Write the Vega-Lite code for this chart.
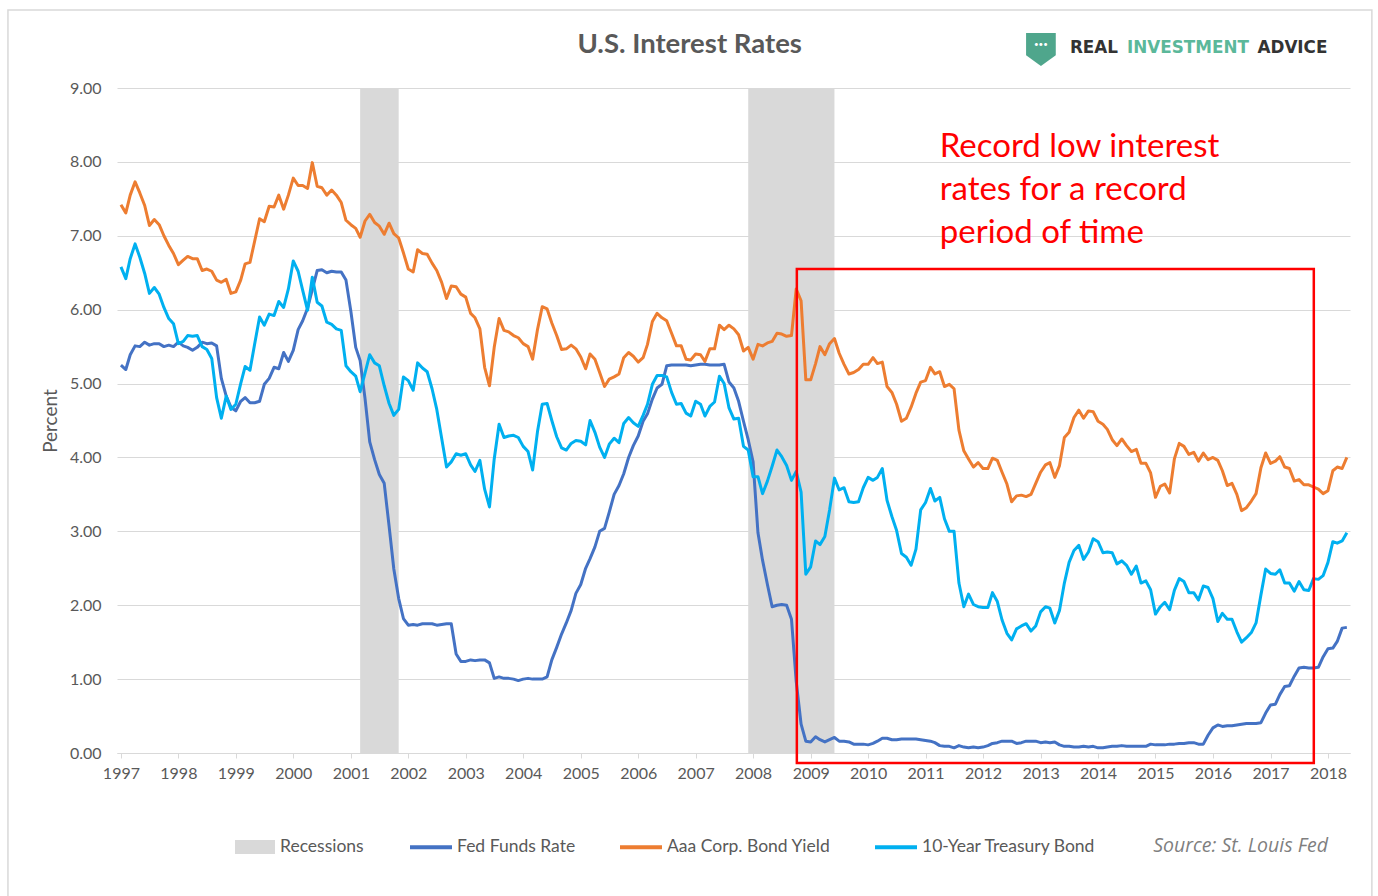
{
"$schema": "https://vega.github.io/schema/vega-lite/v6.json",
"autosize": {"type": "none"},
"width": 1233,
"height": 665,
"padding": {"left": 117, "top": 88, "right": 28, "bottom": 143},
"background": "white",
"datasets": {
"rates": [
{"d":"1997-01-01","fed":5.25,"aaa":7.42,"t10":6.58},{"d":"1997-02-01","fed":5.19,"aaa":7.31,"t10":6.42},{"d":"1997-03-01","fed":5.39,"aaa":7.55,"t10":6.69},{"d":"1997-04-01","fed":5.51,"aaa":7.73,"t10":6.89},{"d":"1997-05-01","fed":5.50,"aaa":7.58,"t10":6.71},{"d":"1997-06-01","fed":5.56,"aaa":7.41,"t10":6.49},{"d":"1997-07-01","fed":5.52,"aaa":7.14,"t10":6.22},{"d":"1997-08-01","fed":5.54,"aaa":7.22,"t10":6.30},{"d":"1997-09-01","fed":5.54,"aaa":7.15,"t10":6.21},{"d":"1997-10-01","fed":5.50,"aaa":7.00,"t10":6.03},{"d":"1997-11-01","fed":5.52,"aaa":6.87,"t10":5.88},{"d":"1997-12-01","fed":5.50,"aaa":6.76,"t10":5.81},
{"d":"1998-01-01","fed":5.56,"aaa":6.61,"t10":5.54},{"d":"1998-02-01","fed":5.51,"aaa":6.67,"t10":5.57},{"d":"1998-03-01","fed":5.49,"aaa":6.72,"t10":5.65},{"d":"1998-04-01","fed":5.45,"aaa":6.69,"t10":5.64},{"d":"1998-05-01","fed":5.49,"aaa":6.69,"t10":5.65},{"d":"1998-06-01","fed":5.56,"aaa":6.53,"t10":5.50},{"d":"1998-07-01","fed":5.54,"aaa":6.55,"t10":5.46},{"d":"1998-08-01","fed":5.55,"aaa":6.52,"t10":5.34},{"d":"1998-09-01","fed":5.51,"aaa":6.40,"t10":4.81},{"d":"1998-10-01","fed":5.07,"aaa":6.37,"t10":4.53},{"d":"1998-11-01","fed":4.83,"aaa":6.41,"t10":4.83},{"d":"1998-12-01","fed":4.68,"aaa":6.22,"t10":4.65},
{"d":"1999-01-01","fed":4.63,"aaa":6.24,"t10":4.72},{"d":"1999-02-01","fed":4.76,"aaa":6.40,"t10":5.00},{"d":"1999-03-01","fed":4.81,"aaa":6.62,"t10":5.23},{"d":"1999-04-01","fed":4.74,"aaa":6.64,"t10":5.18},{"d":"1999-05-01","fed":4.74,"aaa":6.93,"t10":5.54},{"d":"1999-06-01","fed":4.76,"aaa":7.23,"t10":5.90},{"d":"1999-07-01","fed":4.99,"aaa":7.19,"t10":5.79},{"d":"1999-08-01","fed":5.07,"aaa":7.40,"t10":5.94},{"d":"1999-09-01","fed":5.22,"aaa":7.39,"t10":5.92},{"d":"1999-10-01","fed":5.20,"aaa":7.55,"t10":6.11},{"d":"1999-11-01","fed":5.42,"aaa":7.36,"t10":6.03},{"d":"1999-12-01","fed":5.30,"aaa":7.55,"t10":6.28},
{"d":"2000-01-01","fed":5.45,"aaa":7.78,"t10":6.66},{"d":"2000-02-01","fed":5.73,"aaa":7.68,"t10":6.52},{"d":"2000-03-01","fed":5.85,"aaa":7.68,"t10":6.26},{"d":"2000-04-01","fed":6.02,"aaa":7.64,"t10":5.99},{"d":"2000-05-01","fed":6.27,"aaa":7.99,"t10":6.44},{"d":"2000-06-01","fed":6.53,"aaa":7.67,"t10":6.10},{"d":"2000-07-01","fed":6.54,"aaa":7.65,"t10":6.05},{"d":"2000-08-01","fed":6.50,"aaa":7.55,"t10":5.83},{"d":"2000-09-01","fed":6.52,"aaa":7.62,"t10":5.80},{"d":"2000-10-01","fed":6.51,"aaa":7.55,"t10":5.74},{"d":"2000-11-01","fed":6.51,"aaa":7.45,"t10":5.72},{"d":"2000-12-01","fed":6.40,"aaa":7.21,"t10":5.24},
{"d":"2001-01-01","fed":5.98,"aaa":7.15,"t10":5.16},{"d":"2001-02-01","fed":5.49,"aaa":7.10,"t10":5.10},{"d":"2001-03-01","fed":5.31,"aaa":6.98,"t10":4.89},{"d":"2001-04-01","fed":4.80,"aaa":7.20,"t10":5.14},{"d":"2001-05-01","fed":4.21,"aaa":7.29,"t10":5.39},{"d":"2001-06-01","fed":3.97,"aaa":7.18,"t10":5.28},{"d":"2001-07-01","fed":3.77,"aaa":7.13,"t10":5.24},{"d":"2001-08-01","fed":3.65,"aaa":7.02,"t10":4.97},{"d":"2001-09-01","fed":3.07,"aaa":7.17,"t10":4.73},{"d":"2001-10-01","fed":2.49,"aaa":7.03,"t10":4.57},{"d":"2001-11-01","fed":2.09,"aaa":6.97,"t10":4.65},{"d":"2001-12-01","fed":1.82,"aaa":6.77,"t10":5.09},
{"d":"2002-01-01","fed":1.73,"aaa":6.55,"t10":5.04},{"d":"2002-02-01","fed":1.74,"aaa":6.51,"t10":4.91},{"d":"2002-03-01","fed":1.73,"aaa":6.81,"t10":5.28},{"d":"2002-04-01","fed":1.75,"aaa":6.76,"t10":5.21},{"d":"2002-05-01","fed":1.75,"aaa":6.75,"t10":5.16},{"d":"2002-06-01","fed":1.75,"aaa":6.63,"t10":4.93},{"d":"2002-07-01","fed":1.73,"aaa":6.53,"t10":4.65},{"d":"2002-08-01","fed":1.74,"aaa":6.37,"t10":4.26},{"d":"2002-09-01","fed":1.75,"aaa":6.15,"t10":3.87},{"d":"2002-10-01","fed":1.75,"aaa":6.32,"t10":3.94},{"d":"2002-11-01","fed":1.34,"aaa":6.31,"t10":4.05},{"d":"2002-12-01","fed":1.24,"aaa":6.21,"t10":4.03},
{"d":"2003-01-01","fed":1.24,"aaa":6.17,"t10":4.05},{"d":"2003-02-01","fed":1.26,"aaa":5.95,"t10":3.90},{"d":"2003-03-01","fed":1.25,"aaa":5.89,"t10":3.81},{"d":"2003-04-01","fed":1.26,"aaa":5.74,"t10":3.96},{"d":"2003-05-01","fed":1.26,"aaa":5.22,"t10":3.57},{"d":"2003-06-01","fed":1.22,"aaa":4.97,"t10":3.33},{"d":"2003-07-01","fed":1.01,"aaa":5.49,"t10":3.98},{"d":"2003-08-01","fed":1.03,"aaa":5.88,"t10":4.45},{"d":"2003-09-01","fed":1.01,"aaa":5.72,"t10":4.27},{"d":"2003-10-01","fed":1.01,"aaa":5.70,"t10":4.29},{"d":"2003-11-01","fed":1.00,"aaa":5.65,"t10":4.30},{"d":"2003-12-01","fed":0.98,"aaa":5.62,"t10":4.27},
{"d":"2004-01-01","fed":1.00,"aaa":5.54,"t10":4.15},{"d":"2004-02-01","fed":1.01,"aaa":5.50,"t10":4.08},{"d":"2004-03-01","fed":1.00,"aaa":5.33,"t10":3.83},{"d":"2004-04-01","fed":1.00,"aaa":5.73,"t10":4.35},{"d":"2004-05-01","fed":1.00,"aaa":6.04,"t10":4.72},{"d":"2004-06-01","fed":1.03,"aaa":6.01,"t10":4.73},{"d":"2004-07-01","fed":1.26,"aaa":5.82,"t10":4.50},{"d":"2004-08-01","fed":1.43,"aaa":5.65,"t10":4.28},{"d":"2004-09-01","fed":1.61,"aaa":5.46,"t10":4.13},{"d":"2004-10-01","fed":1.76,"aaa":5.47,"t10":4.10},{"d":"2004-11-01","fed":1.93,"aaa":5.52,"t10":4.19},{"d":"2004-12-01","fed":2.16,"aaa":5.47,"t10":4.23},
{"d":"2005-01-01","fed":2.28,"aaa":5.36,"t10":4.22},{"d":"2005-02-01","fed":2.50,"aaa":5.20,"t10":4.17},{"d":"2005-03-01","fed":2.63,"aaa":5.40,"t10":4.50},{"d":"2005-04-01","fed":2.79,"aaa":5.33,"t10":4.34},{"d":"2005-05-01","fed":3.00,"aaa":5.15,"t10":4.14},{"d":"2005-06-01","fed":3.04,"aaa":4.96,"t10":4.00},{"d":"2005-07-01","fed":3.26,"aaa":5.06,"t10":4.18},{"d":"2005-08-01","fed":3.50,"aaa":5.09,"t10":4.26},{"d":"2005-09-01","fed":3.62,"aaa":5.13,"t10":4.20},{"d":"2005-10-01","fed":3.78,"aaa":5.35,"t10":4.46},{"d":"2005-11-01","fed":4.00,"aaa":5.42,"t10":4.54},{"d":"2005-12-01","fed":4.16,"aaa":5.37,"t10":4.47},
{"d":"2006-01-01","fed":4.29,"aaa":5.29,"t10":4.42},{"d":"2006-02-01","fed":4.49,"aaa":5.35,"t10":4.57},{"d":"2006-03-01","fed":4.59,"aaa":5.53,"t10":4.72},{"d":"2006-04-01","fed":4.79,"aaa":5.84,"t10":4.99},{"d":"2006-05-01","fed":4.94,"aaa":5.95,"t10":5.11},{"d":"2006-06-01","fed":4.99,"aaa":5.89,"t10":5.11},{"d":"2006-07-01","fed":5.24,"aaa":5.85,"t10":5.09},{"d":"2006-08-01","fed":5.25,"aaa":5.68,"t10":4.88},{"d":"2006-09-01","fed":5.25,"aaa":5.51,"t10":4.72},{"d":"2006-10-01","fed":5.25,"aaa":5.51,"t10":4.73},{"d":"2006-11-01","fed":5.25,"aaa":5.33,"t10":4.60},{"d":"2006-12-01","fed":5.24,"aaa":5.32,"t10":4.56},
{"d":"2007-01-01","fed":5.25,"aaa":5.40,"t10":4.76},{"d":"2007-02-01","fed":5.26,"aaa":5.39,"t10":4.72},{"d":"2007-03-01","fed":5.26,"aaa":5.30,"t10":4.56},{"d":"2007-04-01","fed":5.25,"aaa":5.47,"t10":4.69},{"d":"2007-05-01","fed":5.25,"aaa":5.47,"t10":4.75},{"d":"2007-06-01","fed":5.25,"aaa":5.79,"t10":5.10},{"d":"2007-07-01","fed":5.26,"aaa":5.73,"t10":5.00},{"d":"2007-08-01","fed":5.02,"aaa":5.79,"t10":4.67},{"d":"2007-09-01","fed":4.94,"aaa":5.74,"t10":4.52},{"d":"2007-10-01","fed":4.76,"aaa":5.66,"t10":4.53},{"d":"2007-11-01","fed":4.49,"aaa":5.44,"t10":4.15},{"d":"2007-12-01","fed":4.24,"aaa":5.49,"t10":4.10},
{"d":"2008-01-01","fed":3.94,"aaa":5.33,"t10":3.74},{"d":"2008-02-01","fed":2.98,"aaa":5.53,"t10":3.74},{"d":"2008-03-01","fed":2.61,"aaa":5.51,"t10":3.51},{"d":"2008-04-01","fed":2.28,"aaa":5.55,"t10":3.68},{"d":"2008-05-01","fed":1.98,"aaa":5.57,"t10":3.88},{"d":"2008-06-01","fed":2.00,"aaa":5.68,"t10":4.10},{"d":"2008-07-01","fed":2.01,"aaa":5.67,"t10":4.01},{"d":"2008-08-01","fed":2.00,"aaa":5.64,"t10":3.89},{"d":"2008-09-01","fed":1.81,"aaa":5.65,"t10":3.69},{"d":"2008-10-01","fed":0.97,"aaa":6.28,"t10":3.81},{"d":"2008-11-01","fed":0.39,"aaa":6.12,"t10":3.53},{"d":"2008-12-01","fed":0.16,"aaa":5.05,"t10":2.42},
{"d":"2009-01-01","fed":0.15,"aaa":5.05,"t10":2.52},{"d":"2009-02-01","fed":0.22,"aaa":5.27,"t10":2.87},{"d":"2009-03-01","fed":0.18,"aaa":5.50,"t10":2.82},{"d":"2009-04-01","fed":0.15,"aaa":5.39,"t10":2.93},{"d":"2009-05-01","fed":0.18,"aaa":5.54,"t10":3.29},{"d":"2009-06-01","fed":0.21,"aaa":5.61,"t10":3.72},{"d":"2009-07-01","fed":0.16,"aaa":5.41,"t10":3.56},{"d":"2009-08-01","fed":0.16,"aaa":5.26,"t10":3.59},{"d":"2009-09-01","fed":0.15,"aaa":5.13,"t10":3.40},{"d":"2009-10-01","fed":0.12,"aaa":5.15,"t10":3.39},{"d":"2009-11-01","fed":0.12,"aaa":5.19,"t10":3.40},{"d":"2009-12-01","fed":0.12,"aaa":5.26,"t10":3.59},
{"d":"2010-01-01","fed":0.11,"aaa":5.26,"t10":3.73},{"d":"2010-02-01","fed":0.13,"aaa":5.35,"t10":3.69},{"d":"2010-03-01","fed":0.16,"aaa":5.27,"t10":3.73},{"d":"2010-04-01","fed":0.20,"aaa":5.29,"t10":3.85},{"d":"2010-05-01","fed":0.20,"aaa":4.96,"t10":3.42},{"d":"2010-06-01","fed":0.18,"aaa":4.88,"t10":3.20},{"d":"2010-07-01","fed":0.18,"aaa":4.72,"t10":3.01},{"d":"2010-08-01","fed":0.19,"aaa":4.49,"t10":2.70},{"d":"2010-09-01","fed":0.19,"aaa":4.53,"t10":2.65},{"d":"2010-10-01","fed":0.19,"aaa":4.68,"t10":2.54},{"d":"2010-11-01","fed":0.19,"aaa":4.87,"t10":2.76},{"d":"2010-12-01","fed":0.18,"aaa":5.02,"t10":3.29},
{"d":"2011-01-01","fed":0.17,"aaa":5.04,"t10":3.39},{"d":"2011-02-01","fed":0.16,"aaa":5.22,"t10":3.58},{"d":"2011-03-01","fed":0.14,"aaa":5.13,"t10":3.41},{"d":"2011-04-01","fed":0.10,"aaa":5.16,"t10":3.46},{"d":"2011-05-01","fed":0.09,"aaa":4.96,"t10":3.17},{"d":"2011-06-01","fed":0.09,"aaa":4.99,"t10":3.00},{"d":"2011-07-01","fed":0.07,"aaa":4.93,"t10":3.00},{"d":"2011-08-01","fed":0.10,"aaa":4.37,"t10":2.30},{"d":"2011-09-01","fed":0.08,"aaa":4.09,"t10":1.98},{"d":"2011-10-01","fed":0.07,"aaa":3.98,"t10":2.15},{"d":"2011-11-01","fed":0.08,"aaa":3.87,"t10":2.01},{"d":"2011-12-01","fed":0.07,"aaa":3.93,"t10":1.98},
{"d":"2012-01-01","fed":0.08,"aaa":3.85,"t10":1.97},{"d":"2012-02-01","fed":0.10,"aaa":3.85,"t10":1.97},{"d":"2012-03-01","fed":0.13,"aaa":3.99,"t10":2.17},{"d":"2012-04-01","fed":0.14,"aaa":3.96,"t10":2.05},{"d":"2012-05-01","fed":0.16,"aaa":3.80,"t10":1.80},{"d":"2012-06-01","fed":0.16,"aaa":3.64,"t10":1.62},{"d":"2012-07-01","fed":0.16,"aaa":3.40,"t10":1.53},{"d":"2012-08-01","fed":0.13,"aaa":3.48,"t10":1.68},{"d":"2012-09-01","fed":0.14,"aaa":3.49,"t10":1.72},{"d":"2012-10-01","fed":0.16,"aaa":3.47,"t10":1.75},{"d":"2012-11-01","fed":0.16,"aaa":3.50,"t10":1.65},{"d":"2012-12-01","fed":0.16,"aaa":3.65,"t10":1.72},
{"d":"2013-01-01","fed":0.14,"aaa":3.80,"t10":1.91},{"d":"2013-02-01","fed":0.15,"aaa":3.90,"t10":1.98},{"d":"2013-03-01","fed":0.14,"aaa":3.93,"t10":1.96},{"d":"2013-04-01","fed":0.15,"aaa":3.73,"t10":1.76},{"d":"2013-05-01","fed":0.11,"aaa":3.89,"t10":1.93},{"d":"2013-06-01","fed":0.09,"aaa":4.27,"t10":2.30},{"d":"2013-07-01","fed":0.09,"aaa":4.34,"t10":2.58},{"d":"2013-08-01","fed":0.08,"aaa":4.54,"t10":2.74},{"d":"2013-09-01","fed":0.08,"aaa":4.64,"t10":2.81},{"d":"2013-10-01","fed":0.09,"aaa":4.53,"t10":2.62},{"d":"2013-11-01","fed":0.08,"aaa":4.63,"t10":2.72},{"d":"2013-12-01","fed":0.09,"aaa":4.62,"t10":2.90},
{"d":"2014-01-01","fed":0.07,"aaa":4.49,"t10":2.86},{"d":"2014-02-01","fed":0.07,"aaa":4.45,"t10":2.71},{"d":"2014-03-01","fed":0.08,"aaa":4.38,"t10":2.72},{"d":"2014-04-01","fed":0.09,"aaa":4.24,"t10":2.71},{"d":"2014-05-01","fed":0.09,"aaa":4.16,"t10":2.56},{"d":"2014-06-01","fed":0.10,"aaa":4.25,"t10":2.60},{"d":"2014-07-01","fed":0.09,"aaa":4.16,"t10":2.54},{"d":"2014-08-01","fed":0.09,"aaa":4.08,"t10":2.42},{"d":"2014-09-01","fed":0.09,"aaa":4.11,"t10":2.53},{"d":"2014-10-01","fed":0.09,"aaa":3.92,"t10":2.30},{"d":"2014-11-01","fed":0.09,"aaa":3.92,"t10":2.33},{"d":"2014-12-01","fed":0.12,"aaa":3.79,"t10":2.21},
{"d":"2015-01-01","fed":0.11,"aaa":3.46,"t10":1.88},{"d":"2015-02-01","fed":0.11,"aaa":3.61,"t10":1.98},{"d":"2015-03-01","fed":0.11,"aaa":3.64,"t10":2.04},{"d":"2015-04-01","fed":0.12,"aaa":3.52,"t10":1.94},{"d":"2015-05-01","fed":0.12,"aaa":3.98,"t10":2.20},{"d":"2015-06-01","fed":0.13,"aaa":4.19,"t10":2.36},{"d":"2015-07-01","fed":0.13,"aaa":4.15,"t10":2.32},{"d":"2015-08-01","fed":0.14,"aaa":4.04,"t10":2.17},{"d":"2015-09-01","fed":0.14,"aaa":4.07,"t10":2.17},{"d":"2015-10-01","fed":0.12,"aaa":3.95,"t10":2.07},{"d":"2015-11-01","fed":0.12,"aaa":4.06,"t10":2.26},{"d":"2015-12-01","fed":0.24,"aaa":3.97,"t10":2.24},
{"d":"2016-01-01","fed":0.34,"aaa":4.00,"t10":2.09},{"d":"2016-02-01","fed":0.38,"aaa":3.96,"t10":1.78},{"d":"2016-03-01","fed":0.36,"aaa":3.82,"t10":1.89},{"d":"2016-04-01","fed":0.37,"aaa":3.62,"t10":1.81},{"d":"2016-05-01","fed":0.37,"aaa":3.65,"t10":1.81},{"d":"2016-06-01","fed":0.38,"aaa":3.50,"t10":1.64},{"d":"2016-07-01","fed":0.39,"aaa":3.28,"t10":1.50},{"d":"2016-08-01","fed":0.40,"aaa":3.32,"t10":1.56},{"d":"2016-09-01","fed":0.40,"aaa":3.41,"t10":1.63},{"d":"2016-10-01","fed":0.40,"aaa":3.51,"t10":1.76},{"d":"2016-11-01","fed":0.41,"aaa":3.86,"t10":2.14},{"d":"2016-12-01","fed":0.54,"aaa":4.06,"t10":2.49},
{"d":"2017-01-01","fed":0.65,"aaa":3.92,"t10":2.43},{"d":"2017-02-01","fed":0.66,"aaa":3.95,"t10":2.42},{"d":"2017-03-01","fed":0.79,"aaa":4.01,"t10":2.48},{"d":"2017-04-01","fed":0.90,"aaa":3.87,"t10":2.30},{"d":"2017-05-01","fed":0.91,"aaa":3.85,"t10":2.30},{"d":"2017-06-01","fed":1.04,"aaa":3.68,"t10":2.19},{"d":"2017-07-01","fed":1.15,"aaa":3.70,"t10":2.32},{"d":"2017-08-01","fed":1.16,"aaa":3.63,"t10":2.21},{"d":"2017-09-01","fed":1.15,"aaa":3.63,"t10":2.20},{"d":"2017-10-01","fed":1.15,"aaa":3.60,"t10":2.36},{"d":"2017-11-01","fed":1.16,"aaa":3.57,"t10":2.35},{"d":"2017-12-01","fed":1.30,"aaa":3.51,"t10":2.40},
{"d":"2018-01-01","fed":1.41,"aaa":3.55,"t10":2.58},{"d":"2018-02-01","fed":1.42,"aaa":3.82,"t10":2.86},{"d":"2018-03-01","fed":1.51,"aaa":3.87,"t10":2.84},{"d":"2018-04-01","fed":1.69,"aaa":3.85,"t10":2.87},{"d":"2018-05-01","fed":1.70,"aaa":4.00,"t10":2.98}
],
"recessions": [
{"start":"2001-03-01","end":"2001-11-01","label":"Recessions"},
{"start":"2007-12-01","end":"2009-06-01","label":"Recessions"}
]
},
"layer": [
{
"data": {"values": [{}]},
"mark": {"type": "rect", "filled": false, "stroke": "#D9D9D9", "strokeWidth": 1.5},
"encoding": {
"x": {"datum": {"year": 1995, "month": 1, "date": 14, "utc": true}, "type": "temporal"},
"x2": {"datum": {"year": 2018, "month": 10, "date": 7, "utc": true}},
"y": {"datum": 10.054, "type": "quantitative"},
"y2": {"datum": -2.1}
}
},
{
"data": {"name": "recessions"},
"mark": {"type": "rect", "color": "#D9D9D9"},
"encoding": {
"x": {"field": "start", "type": "temporal"},
"x2": {"field": "end"},
"y": {"datum": 0, "type": "quantitative"},
"y2": {"datum": 9},
"fill": {"field": "label", "type": "nominal", "scale": {"range": ["#D9D9D9"]},
"legend": {"orient": "none", "legendX": 118, "legendY": 739, "title": null, "symbolType": "M-1,-0.35H1V0.35H-1Z", "symbolSize": 1600, "symbolStrokeWidth": 0, "labelFontSize": 17.5, "labelLimit": 400, "labelColor": "#595959", "labelFont": "Lato", "labelOffset": 5, "direction": "horizontal"}}
}
},
{
"data": {"name": "rates"},
"transform": [{"fold": ["fed", "aaa", "t10"], "as": ["series", "value"]}],
"mark": {"type": "line", "strokeWidth": 3, "strokeJoin": "round"},
"encoding": {
"x": {"field": "d", "type": "temporal",
"scale": {"type": "utc", "domain": [{"year": 1996, "month": 12, "date": 7, "utc": true}, {"year": 2018, "month": 5, "date": 21, "utc": true}]},
"axis": {"title": null, "format": "%Y", "tickCount": {"interval": "year", "step": 1}, "grid": false, "domain": true, "domainColor": "#D9D9D9", "ticks": true, "tickColor": "#D9D9D9", "tickSize": 5, "labelPadding": 7, "labelFontSize": 16, "labelColor": "#595959", "labelFont": "Lato", "labelOverlap": false}},
"y": {"field": "value", "type": "quantitative",
"scale": {"domain": [0, 9], "nice": false},
"axis": {"title": "Percent", "values": [0,1,2,3,4,5,6,7,8,9], "format": ".2f", "grid": true, "gridColor": "#D9D9D9", "domain": false, "ticks": false, "labelPadding": 16, "labelFontSize": 16, "labelColor": "#595959", "labelFont": "Lato", "titleFont": "Lato", "titleFontSize": 19, "titleFontWeight": "normal", "titleColor": "#595959", "titlePadding": 9}},
"color": {"field": "series", "type": "nominal",
"scale": {"domain": ["fed", "aaa", "t10"], "range": ["#4472C4", "#ED7D31", "#00B0F0"]},
"legend": {"orient": "none", "legendX": 291, "legendY": 736, "title": null, "direction": "horizontal", "symbolType": "stroke", "symbolSize": 1764, "symbolStrokeWidth": 4, "columnPadding": 36, "labelOffset": 3, "labelFontSize": 17.5, "labelLimit": 400, "labelColor": "#595959", "labelFont": "Lato",
"labelExpr": "datum.label == 'fed' ? 'Fed Funds Rate' : datum.label == 'aaa' ? 'Aaa Corp. Bond Yield' : '10-Year Treasury Bond'"}}
}
},
{
"data": {"values": [{}]},
"mark": {"type": "rect", "filled": false, "stroke": "#FF0000", "strokeWidth": 2.5},
"encoding": {
"x": {"datum": {"year": 2008, "month": 10, "date": 5, "utc": true}, "type": "temporal"},
"x2": {"datum": {"year": 2017, "month": 10, "date": 3, "utc": true}},
"y": {"datum": 6.55, "type": "quantitative"},
"y2": {"datum": -0.135}
}
},
{
"data": {"values": [{"t": ["Record low interest", "rates for a record", "period of time"]}]},
"mark": {"type": "text", "align": "left", "baseline": "alphabetic", "font": "Lato", "fontSize": 33, "color": "#FF0000", "lineHeight": 43},
"encoding": {
"x": {"datum": {"year": 2011, "month": 4, "date": 1, "utc": true}, "type": "temporal"},
"y": {"datum": 8.07, "type": "quantitative"},
"text": {"field": "t"}
}
},
{
"data": {"values": [{"t": "U.S. Interest Rates"}]},
"mark": {"type": "text", "align": "center", "baseline": "middle", "font": "Lato", "fontSize": 27.5, "fontWeight": "bold", "color": "#595959"},
"encoding": {
"x": {"datum": {"year": 2006, "month": 11, "date": 24, "utc": true}, "type": "temporal"},
"y": {"datum": 9.58, "type": "quantitative"},
"text": {"field": "t"}
}
},
{
"data": {"values": [{"t": "Source: St. Louis Fed"}]},
"mark": {"type": "text", "align": "right", "baseline": "middle", "font": "Open Sans", "fontSize": 19.5, "fontStyle": "italic", "color": "#7F7F7F"},
"encoding": {
"x": {"datum": {"year": 2018, "month": 1, "date": 1, "utc": true}, "type": "temporal"},
"y": {"datum": -1.258, "type": "quantitative"},
"text": {"field": "t"}
}
},
{
"data": {"values": [{}]},
"mark": {"type": "point", "shape": "M-0.9,-1H0.9V0.35L0,1L-0.9,0.35Z", "size": 1089, "filled": true, "color": "#4FA68C", "opacity": 1},
"encoding": {
"x": {"datum": {"year": 2013, "month": 1, "date": 3, "utc": true}, "type": "temporal"},
"y": {"datum": 9.52, "type": "quantitative"}
}
},
{
"data": {"values": [{"t": "•••"}]},
"mark": {"type": "text", "align": "center", "baseline": "middle", "font": "Lato", "fontSize": 8, "color": "white"},
"encoding": {
"x": {"datum": {"year": 2013, "month": 1, "date": 3, "utc": true}, "type": "temporal"},
"y": {"datum": 9.58, "type": "quantitative"},
"text": {"field": "t"}
}
},
{
"data": {"values": [{"t": "REAL", "c": "#333333", "d": "2013-07-06"}, {"t": "INVESTMENT", "c": "#5BB89A", "d": "2014-07-04"}, {"t": "ADVICE", "c": "#333333", "d": "2016-10-10"}]},
"mark": {"type": "text", "align": "left", "baseline": "middle", "font": "DejaVu Sans", "fontSize": 16.8, "fontWeight": "bold"},
"encoding": {
"x": {"field": "d", "type": "temporal"},
"y": {"datum": 9.54, "type": "quantitative"},
"text": {"field": "t"},
"color": {"field": "c", "type": "nominal", "scale": null, "legend": null}
}
}
],
"config": {
"view": {"stroke": null},
"font": "Lato"
}
}
